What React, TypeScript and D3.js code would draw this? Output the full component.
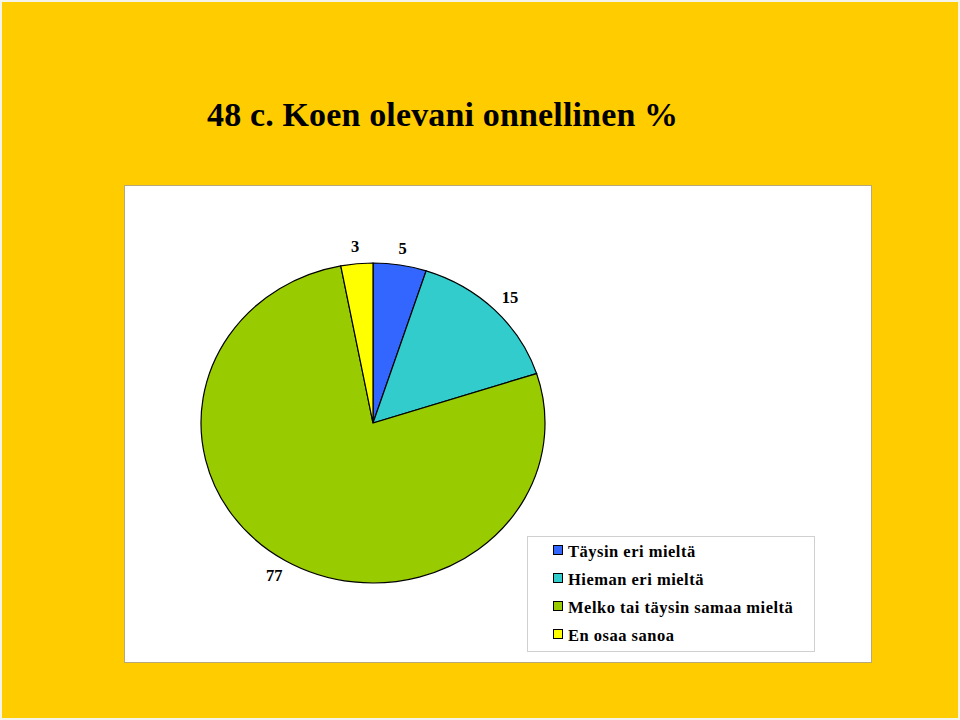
import React, { useEffect } from 'react';
import * as d3 from 'd3';

const categories = ['Täysin eri mieltä', 'Hieman eri mieltä', 'Melko tai täysin samaa mieltä', 'En osaa sanoa'];
const values = [5, 15, 77, 3];
const colors = ['#3366FF', '#33CCCC', '#99CC00', '#FFFF00'];
const title = '48 c. Koen olevani onnellinen %';

const W = 960;
const H = 720;
const cx = 373;
const cy = 423;
const ry = 160;
const stretch = 1.075; // the pie is a bit wider than tall
const serif = '"Liberation Serif", "DejaVu Serif", serif';

const App: React.FC = () => {
  useEffect(() => {
    document.body.style.margin = '0';
  }, []);

  const pie = d3.pie<number>().sort(null).value(d => d).startAngle(0).endAngle(2 * Math.PI);
  const arcs = pie(values);
  const arc = d3.arc<d3.PieArcDatum<number>>().innerRadius(0).outerRadius(ry);
  const labelArc = d3.arc<d3.PieArcDatum<number>>().innerRadius(172).outerRadius(172);

  const legendY = d3.scalePoint<string>().domain(categories).range([551, 635]);

  return (
    <svg width={W} height={H} style={{ display: 'block' }}>
      <rect x={0} y={0} width={W} height={H} fill="#F4F4E8" />
      <rect x={2} y={2} width={W - 4} height={H - 4} fill="#FFCC00" />
      <text x={207} y={126} fontFamily={serif} fontWeight="bold" fontSize={34} letterSpacing={0.15} fill="#000">
        {title}
      </text>

      {/* plot area */}
      <rect x={124.5} y={185.5} width={747} height={477} fill="#fff" stroke="#B8A878" strokeWidth={1} />

      <g transform={`translate(${cx},${cy}) scale(${stretch},1)`}>
        {arcs.map((a, i) => (
          <path
            key={categories[i]}
            d={arc(a) || ''}
            fill={colors[i]}
            stroke="#000"
            strokeWidth={1.2}
            vectorEffect="non-scaling-stroke"
          />
        ))}
      </g>
      {arcs.map((a, i) => {
        const [lx, ly] = labelArc.centroid(a);
        const mid = (a.startAngle + a.endAngle) / 2;
        const w = String(values[i]).length * 9;
        // push the label box outward so its near side sits off the edge
        const x = cx + lx * stretch + Math.sin(mid) * w / 2;
        const y = cy + ly - Math.cos(mid) * 5;
        return (
          <text
            key={`l-${categories[i]}`}
            x={x}
            y={y}
            textAnchor="middle"
            dominantBaseline="central"
            fontFamily={serif}
            fontWeight="bold"
            fontSize={16.5}
            fill="#000"
          >
            {values[i]}
          </text>
        );
      })}

      {/* legend */}
      <rect x={527.5} y={536.5} width={287} height={115} fill="#fff" stroke="#D0D0D0" strokeWidth={1} />
      {categories.map((c, i) => {
        const y = legendY(c) as number;
        return (
          <g key={`lg-${c}`}>
            <rect x={553.5} y={y - 5.5} width={9} height={9} fill={colors[i]} stroke="#000" strokeWidth={1} />
            <text
              x={568}
              y={y}
              dominantBaseline="central"
              fontFamily={serif}
              fontWeight="bold"
              fontSize={16.5}
              letterSpacing={0.5}
              fill="#000"
            >
              {c}
            </text>
          </g>
        );
      })}
    </svg>
  );
};

export default App;
